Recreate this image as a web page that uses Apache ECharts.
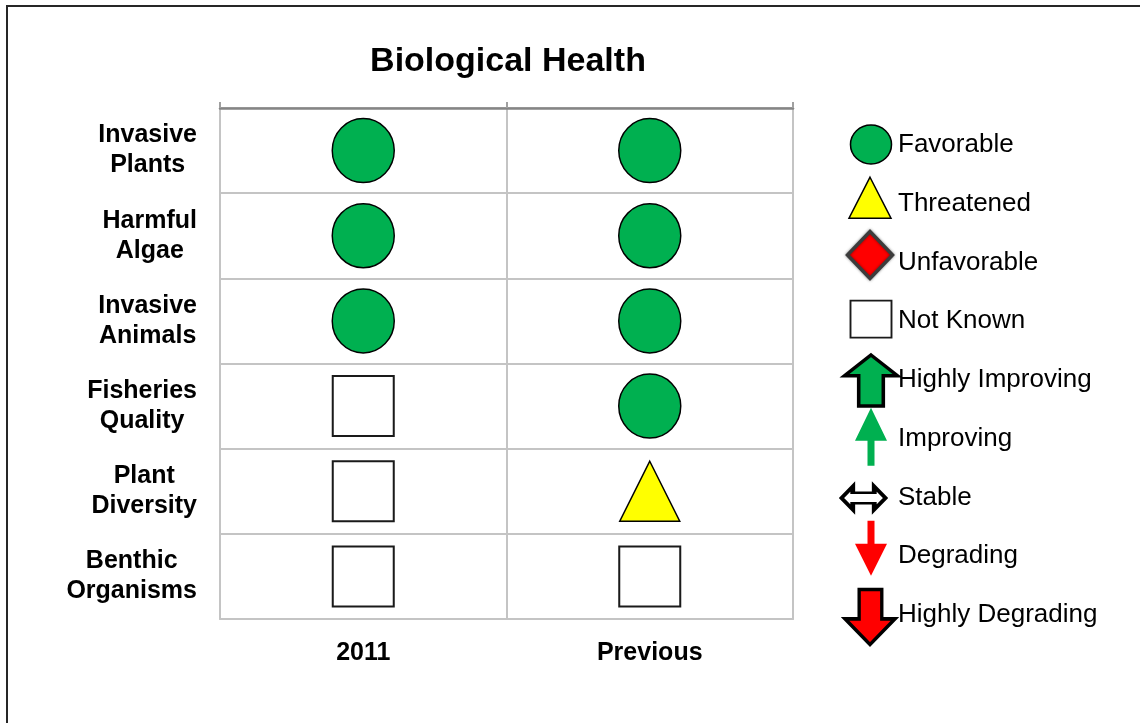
<!DOCTYPE html>
<html>
<head>
<meta charset="utf-8">
<script src="https://cdn.jsdelivr.net/npm/echarts@6/dist/echarts.min.js"></script>
<style>
html,body{margin:0;padding:0;background:#fff;}
#chart{width:1140px;height:723px;}
</style>
</head>
<body>
<div id="chart"></div>
<script>
// ---- data ----
const chartTitle = 'Biological Health';
const columns = ['2011', 'Previous'];
const rows = ['Invasive\nPlants', 'Harmful\nAlgae', 'Invasive\nAnimals', 'Fisheries\nQuality', 'Plant\nDiversity', 'Benthic\nOrganisms'];
const status2011 = ['Favorable', 'Favorable', 'Favorable', 'Not Known', 'Not Known', 'Not Known'];
const statusPrevious = ['Favorable', 'Favorable', 'Favorable', 'Favorable', 'Threatened', 'Not Known'];
const legendLabels = ['Favorable', 'Threatened', 'Unfavorable', 'Not Known', 'Highly Improving', 'Improving', 'Stable', 'Degrading', 'Highly Degrading'];

// ---- styles ----
const FONT = '"Liberation Sans", Arial, sans-serif';
const GREEN = '#00B050';
const RED = '#FF0000';
const statusStyle = {
  'Favorable':   {symbol: 'circle',   size: [62, 64], item: {color: GREEN, borderColor: '#000', borderWidth: 1.5}},
  'Threatened':  {symbol: 'triangle', size: [60, 60], item: {color: '#FFFF00', borderColor: '#000', borderWidth: 1.5}},
  'Unfavorable': {symbol: 'diamond',  size: [62, 62], item: {color: RED, borderColor: '#404040', borderWidth: 3}},
  'Not Known':   {symbol: 'rect',     size: [61, 60], item: {color: '#fff', borderColor: '#1a1a1a', borderWidth: 2}}
};
const legendStyle = {
  'Favorable':   {symbol: 'circle', size: [41, 39], off: [1, -0.5], item: {color: GREEN, borderColor: '#000', borderWidth: 1.5}},
  'Threatened':  {symbol: 'triangle', size: [42, 41], off: [0, -6], item: {color: '#FFFF00', borderColor: '#000', borderWidth: 1.5}},
  'Unfavorable': {symbol: 'diamond', size: [45, 47], off: [0, -7.5], item: {color: RED, borderColor: '#3c3c3c', borderWidth: 3.5, shadowBlur: 3, shadowColor: 'rgba(0,0,0,0.45)'}},
  'Not Known':   {symbol: 'rect', size: [41, 37], off: [1, -2], item: {color: '#fff', borderColor: '#1a1a1a', borderWidth: 1.8}},
  'Highly Improving': {symbol: 'path://M28 0 L56 22 L41 22 L41 54 L15 54 L15 22 L0 22 Z', size: [53, 51], off: [1, 0.5], item: {color: GREEN, borderColor: '#000', borderWidth: 3.5}},
  'Improving':   {symbol: 'path://M16 0 L32 33 L19.5 33 L19.5 58 L12.5 58 L12.5 33 L0 33 Z', size: [32, 58], off: [1, -2], item: {color: GREEN}},
  'Stable':      {symbol: 'path://M0 13 L12 0 L12 7 L35 7 L35 0 L47 13 L35 26 L35 19 L12 19 L12 26 Z', size: [44, 23], off: [-6.5, 0.5], item: {color: '#fff', borderColor: '#000', borderWidth: 3.5}},
  'Degrading':   {symbol: 'path://M12.5 0 L19.5 0 L19.5 23 L32 23 L16 55 L0 23 L12.5 23 Z', size: [32, 55], off: [1, -8], item: {color: RED}},
  'Highly Degrading': {symbol: 'path://M15 0 L39 0 L39 31 L53 31 L26.5 58 L0 31 L15 31 Z', size: [50, 55], off: [0, 2], item: {color: RED, borderColor: '#000', borderWidth: 3.5}}
};

const columnStatus = [status2011, statusPrevious];
const cellData = [];
columnStatus.forEach((arr, c) => {
  arr.forEach((s, r) => {
    const st = statusStyle[s];
    cellData.push({name: s, value: [columns[c], rows[r]], symbol: st.symbol, symbolSize: st.size,
      itemStyle: Object.assign({opacity: 1}, st.item)});
  });
});
const legendData = legendLabels.map((l) => {
  const st = legendStyle[l];
  return {name: l, value: [0.5, l], symbol: st.symbol, symbolSize: st.size, symbolOffset: st.off,
    symbolKeepAspect: false, itemStyle: Object.assign({opacity: 1}, st.item)};
});

const chart = echarts.init(document.getElementById('chart'), null, {renderer: 'canvas'});
const lightLine = {lineStyle: {color: '#c4c4c4', width: 2}};

chart.setOption({
  animation: false,
  backgroundColor: '#fff',
  title: {
    text: chartTitle, left: 503, top: 40, textAlign: 'center',
    textStyle: {fontFamily: FONT, fontSize: 34, fontWeight: 'bold', color: '#000'}
  },
  graphic: [{
    type: 'rect', shape: {x: 7, y: 6, width: 1200, height: 800},
    style: {fill: 'none', stroke: '#262626', lineWidth: 2}, silent: true, z: 100
  }],
  grid: [
    {left: 220, right: 347, top: 108, bottom: 104},
    {left: 846, width: 48, top: 115.6, height: 528.75}
  ],
  xAxis: [
    {
      gridIndex: 0, type: 'category', data: columns, position: 'bottom', boundaryGap: true,
      axisLine: lightLine, axisTick: {show: false},
      splitLine: {show: true, lineStyle: {color: '#c4c4c4', width: 2}},
      axisLabel: {margin: 22, fontFamily: FONT, fontSize: 25, fontWeight: 'bold', color: '#000'}
    },
    {
      gridIndex: 0, type: 'category', data: columns, position: 'top', boundaryGap: true,
      axisLine: {lineStyle: {color: '#858585', width: 2.5}},
      axisTick: {show: true, length: 6, lineStyle: {color: '#a0a0a0', width: 2}},
      axisLabel: {show: false}, splitLine: {show: false}
    },
    {
      gridIndex: 1, type: 'value', min: 0, max: 1, show: false
    }
  ],
  yAxis: [
    {
      gridIndex: 0, type: 'category', data: rows, inverse: true, boundaryGap: true,
      axisLine: lightLine, axisTick: {show: false},
      splitLine: {show: true, lineStyle: {color: '#c4c4c4', width: 2}},
      axisLabel: {
        margin: 23,
        formatter: (v) => v.split('\n').map(w => '{c|' + w + '}').join('\n'),
        rich: {c: {fontFamily: FONT, fontSize: 25, fontWeight: 'bold', color: '#000', lineHeight: 30, align: 'center'}}
      }
    },
    {
      gridIndex: 0, type: 'category', data: rows, inverse: true, position: 'right',
      axisLine: lightLine, axisTick: {show: false}, axisLabel: {show: false}, splitLine: {show: false}
    },
    {
      gridIndex: 1, type: 'category', data: legendLabels, inverse: true, position: 'right',
      axisLine: {show: false}, axisTick: {show: false}, splitLine: {show: false},
      axisLabel: {margin: 4, align: 'left', fontFamily: FONT, fontSize: 26, color: '#000'}
    }
  ],
  series: [
    {
      type: 'scatter', xAxisIndex: 0, yAxisIndex: 0, data: cellData, z: 5, itemStyle: {opacity: 1}
    },
    {
      type: 'scatter', xAxisIndex: 2, yAxisIndex: 2, data: legendData, z: 5, itemStyle: {opacity: 1}
    }
  ]
});
</script>
</body>
</html>
